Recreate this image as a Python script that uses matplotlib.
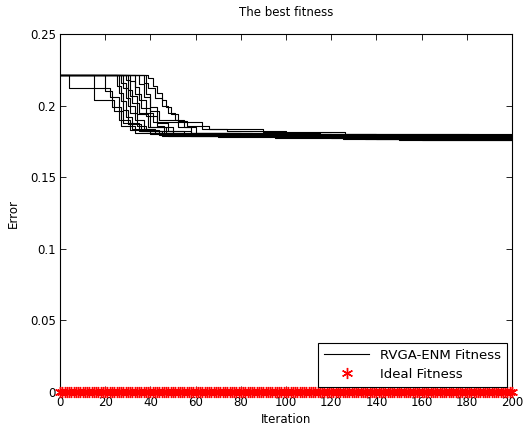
import numpy as np
import matplotlib
matplotlib.use("Agg")
import matplotlib.pyplot as plt

# best-fitness error per run, stored as (iteration, value) breakpoints of the step curve
RUNS_ITER = [
    [0, 4, 22, 26, 31, 44, 110, 200],
    [0, 15, 24, 28, 35, 50, 125, 200],
    [0, 20, 23, 27, 33, 48, 200],
    [0, 25, 27, 29, 32, 40, 70, 150, 200],
    [0, 26, 28, 30, 36, 45, 95, 200],
    [0, 27, 29, 31, 34, 38, 55, 130, 200],
    [0, 28, 30, 33, 37, 42, 80, 200],
    [0, 29, 31, 34, 39, 47, 105, 160, 200],
    [0, 30, 32, 35, 41, 63, 74, 100, 200],
    [0, 31, 33, 36, 40, 50, 120, 200],
    [0, 33, 35, 38, 43, 46, 140, 200],
    [0, 35, 37, 40, 44, 52, 60, 115, 200],
    [0, 37, 39, 42, 45, 48, 51, 55, 58, 85, 200],
    [0, 39, 41, 43, 45, 47, 49, 52, 56, 66, 90, 126, 181, 200],
    [0, 38, 40, 43, 48, 58, 135, 200],
]
RUNS_VAL = [
    [0.2215, 0.2123, 0.206, 0.190, 0.183, 0.1795, 0.1785, 0.1785],
    [0.2215, 0.204, 0.196, 0.188, 0.182, 0.180, 0.1765, 0.1765],
    [0.2215, 0.210, 0.199, 0.186, 0.181, 0.1788, 0.1788],
    [0.2215, 0.214, 0.203, 0.192, 0.184, 0.180, 0.178, 0.1758, 0.1758],
    [0.2215, 0.209, 0.197, 0.187, 0.182, 0.179, 0.1772, 0.1772],
    [0.2215, 0.216, 0.205, 0.195, 0.186, 0.182, 0.1798, 0.1780, 0.1780],
    [0.2215, 0.212, 0.200, 0.190, 0.184, 0.181, 0.1800, 0.1800],
    [0.2215, 0.218, 0.207, 0.194, 0.185, 0.181, 0.179, 0.1762, 0.1762],
    [0.2215, 0.211, 0.202, 0.195, 0.1886, 0.184, 0.182, 0.1792, 0.1792],
    [0.2215, 0.217, 0.208, 0.198, 0.185, 0.1805, 0.1776, 0.1776],
    [0.2215, 0.213, 0.204, 0.193, 0.186, 0.180, 0.1768, 0.1768],
    [0.2215, 0.215, 0.206, 0.196, 0.190, 0.185, 0.181, 0.1785, 0.1785],
    [0.2215, 0.216, 0.212, 0.205, 0.200, 0.195, 0.190, 0.185, 0.181, 0.1795, 0.1795],
    [0.2215, 0.219, 0.214, 0.209, 0.204, 0.199, 0.194, 0.189, 0.186, 0.184, 0.1818,
     0.1803, 0.1782, 0.1782],
    [0.2215, 0.208, 0.199, 0.188, 0.182, 0.179, 0.1770, 0.1770],
]

IDEAL_ITER = np.arange(0, 201)
IDEAL_VAL = np.zeros(len(IDEAL_ITER))

plt.rcParams["font.family"] = "DejaVu Sans"
plt.rcParams["font.size"] = 8.5

fig = plt.figure(figsize=(5.27, 4.28), dpi=100)
ax = fig.add_axes([60 / 527, 1 - 392 / 428, 452 / 527, 358 / 428])

for i, (it, v) in enumerate(zip(RUNS_ITER, RUNS_VAL)):
    ax.plot(it, v, drawstyle="steps-post", color="black", linewidth=0.8,
            label="RVGA-ENM Fitness" if i == 0 else None)

# MATLAB-style '*' marker: six-spoke asterisk
ax.plot(IDEAL_ITER, IDEAL_VAL, linestyle="none", marker=(6, 2, 0), color="red",
        markersize=8, markeredgewidth=1.0, label="Ideal Fitness", clip_on=False,
        zorder=5)

ax.set_xlim(0, 200)
ax.set_ylim(0, 0.25)
ax.set_xticks(np.arange(0, 201, 20))
ax.set_yticks([0, 0.05, 0.1, 0.15, 0.2, 0.25])
ax.set_yticklabels(["0", "0.05", "0.1", "0.15", "0.2", "0.25"])
ax.tick_params(direction="in", top=True, right=True, length=4, width=0.6, pad=3)
for s in ax.spines.values():
    s.set_linewidth(0.8)

ax.set_xlabel("Iteration", labelpad=3)
ax.set_ylabel("Error", labelpad=7)
ax.set_title("The best fitness", fontsize=8.5, pad=13)

leg = ax.legend(loc="lower right", fontsize=9.5, fancybox=False, framealpha=1,
                edgecolor="black", borderaxespad=0.4, handlelength=3.4,
                borderpad=0.45, labelspacing=0.45)
leg.get_frame().set_linewidth(0.8)

fig.savefig("out.png", dpi=100)
